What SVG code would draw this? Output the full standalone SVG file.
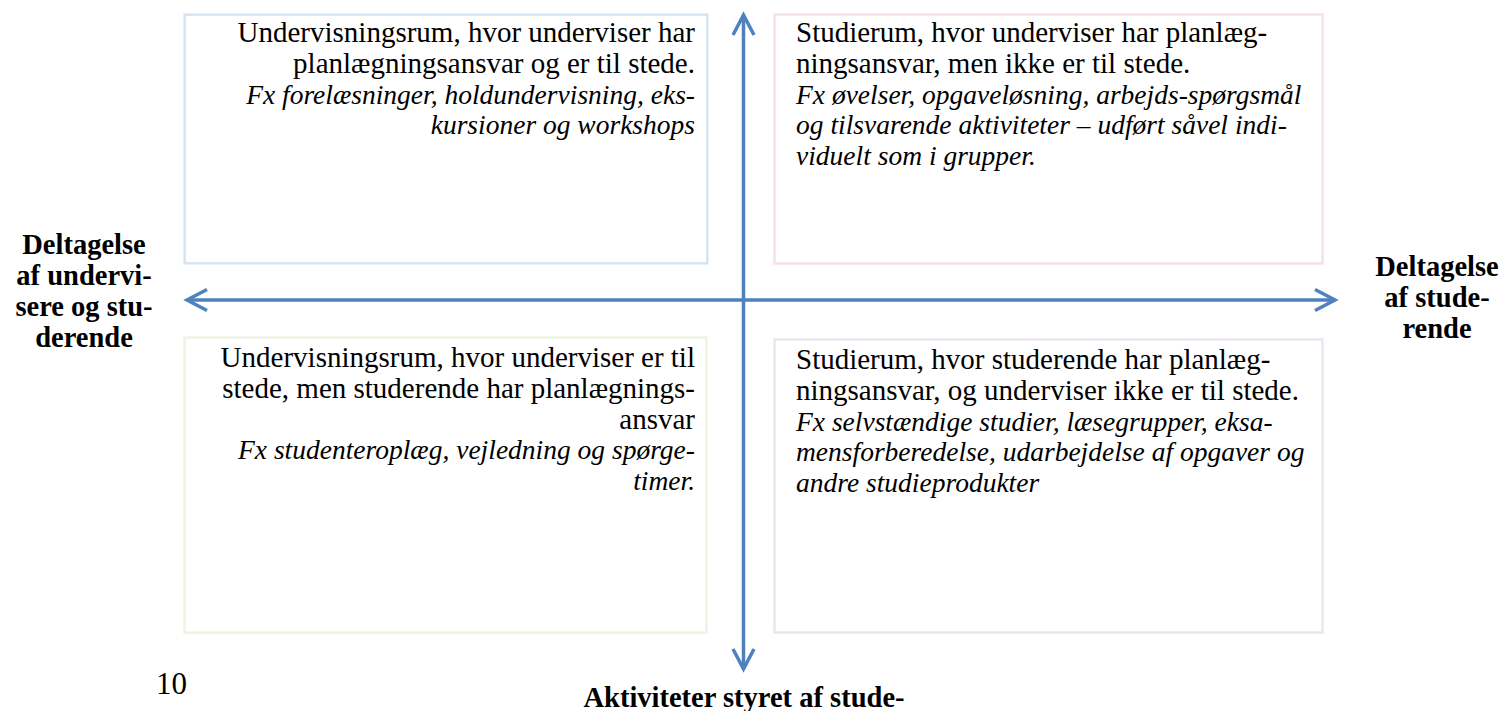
<svg xmlns="http://www.w3.org/2000/svg" width="1505" height="711" viewBox="0 0 1505 711">
<style>
.t{font-family:"Liberation Serif","Times New Roman",serif;font-size:29px;fill:#000}
.i{font-style:italic;font-size:27.5px}
.b{font-family:"Liberation Serif","Times New Roman",serif;font-size:28.5px;font-weight:bold;fill:#000;text-anchor:middle}
.pg{font-family:"Liberation Serif","Times New Roman",serif;font-size:31px;fill:#000}
.r{text-anchor:end}
.ax{stroke:#4f81bd;stroke-width:3.5;fill:none}
.glow{fill:none;stroke-width:4;stroke-opacity:0.3}
.edge{fill:#fff;stroke-width:1.2}
</style>
<defs>
<marker id="ah" viewBox="-24 -14 28 28" refX="0" refY="0" markerWidth="28" markerHeight="28" markerUnits="userSpaceOnUse" orient="auto-start-reverse">
<path d="M-20,-10.5 L0,0 L-20,10.5" fill="none" stroke="#4f81bd" stroke-width="3.5"/>
</marker>
</defs>
<rect width="1505" height="711" fill="#fff"/>

<g id="box-tl">
<rect class="glow" x="185" y="15" width="522" height="248" stroke="#b8cce4"/>
<rect class="edge" x="185" y="15" width="522" height="248" stroke="#c6d9f1"/>
<text class="t r" x="695" y="42">Undervisningsrum, hvor underviser har</text>
<text class="t r" x="695" y="72.8">planlægningsansvar og er til stede.</text>
<text class="t r i" x="695" y="103.6">Fx forelæsninger, holdundervisning, eks-</text>
<text class="t r i" x="695" y="134.4">kursioner og workshops</text>
</g>

<g id="box-tr">
<rect class="glow" x="775" y="15" width="547" height="248" stroke="#e6b9b8"/>
<rect class="edge" x="775" y="15" width="547" height="248" stroke="#f2dcdb"/>
<text class="t" x="796" y="42">Studierum, hvor underviser har planlæg-</text>
<text class="t" x="796" y="72.8">ningsansvar, men ikke er til stede.</text>
<text class="t i" x="796" y="103.6">Fx øvelser, opgaveløsning, arbejds-spørgsmål</text>
<text class="t i" x="796" y="134.4">og tilsvarende aktiviteter – udført såvel indi-</text>
<text class="t i" x="796" y="165.2">viduelt som i grupper.</text>
</g>

<g id="box-bl">
<rect class="glow" x="185" y="338" width="521" height="294" stroke="#d7e4bd"/>
<rect class="edge" x="185" y="338" width="521" height="294" stroke="#ebf1de"/>
<text class="t r" x="695" y="367">Undervisningsrum, hvor underviser er til</text>
<text class="t r" x="695" y="397.8">stede, men studerende har planlægnings-</text>
<text class="t r" x="695" y="428.6">ansvar</text>
<text class="t r i" x="695" y="459.4">Fx studenteroplæg, vejledning og spørge-</text>
<text class="t r i" x="695" y="490.2">timer.</text>
</g>

<g id="box-br">
<rect class="glow" x="775" y="340" width="547" height="292" stroke="#ccc1da"/>
<rect class="edge" x="775" y="340" width="547" height="292" stroke="#e5e0ec"/>
<text class="t" x="796" y="369">Studierum, hvor studerende har planlæg-</text>
<text class="t" x="796" y="399.8">ningsansvar, og underviser ikke er til stede.</text>
<text class="t i" x="796" y="430.6">Fx selvstændige studier, læsegrupper, eksa-</text>
<text class="t i" x="796" y="461.4">mensforberedelse, udarbejdelse af opgaver og</text>
<text class="t i" x="796" y="492.2">andre studieprodukter</text>
</g>

<g id="connectors">
<line class="ax" x1="743.5" y1="15" x2="743.5" y2="669" marker-start="url(#ah)" marker-end="url(#ah)"/>
<line class="ax" x1="187" y1="300" x2="1335" y2="300" marker-start="url(#ah)" marker-end="url(#ah)"/>
</g>

<g id="label-left">
<text class="b" x="84" y="254">Deltagelse</text>
<text class="b" x="84" y="285">af undervi-</text>
<text class="b" x="84" y="316">sere og stu-</text>
<text class="b" x="84" y="347">derende</text>
</g>

<g id="label-right">
<text class="b" x="1437" y="276">Deltagelse</text>
<text class="b" x="1437" y="307">af stude-</text>
<text class="b" x="1437" y="338">rende</text>
</g>

<g id="label-bottom">
<text class="b" x="744" y="707">Aktiviteter styret af stude-</text>
</g>

<text class="pg" x="156" y="694">10</text>
</svg>
